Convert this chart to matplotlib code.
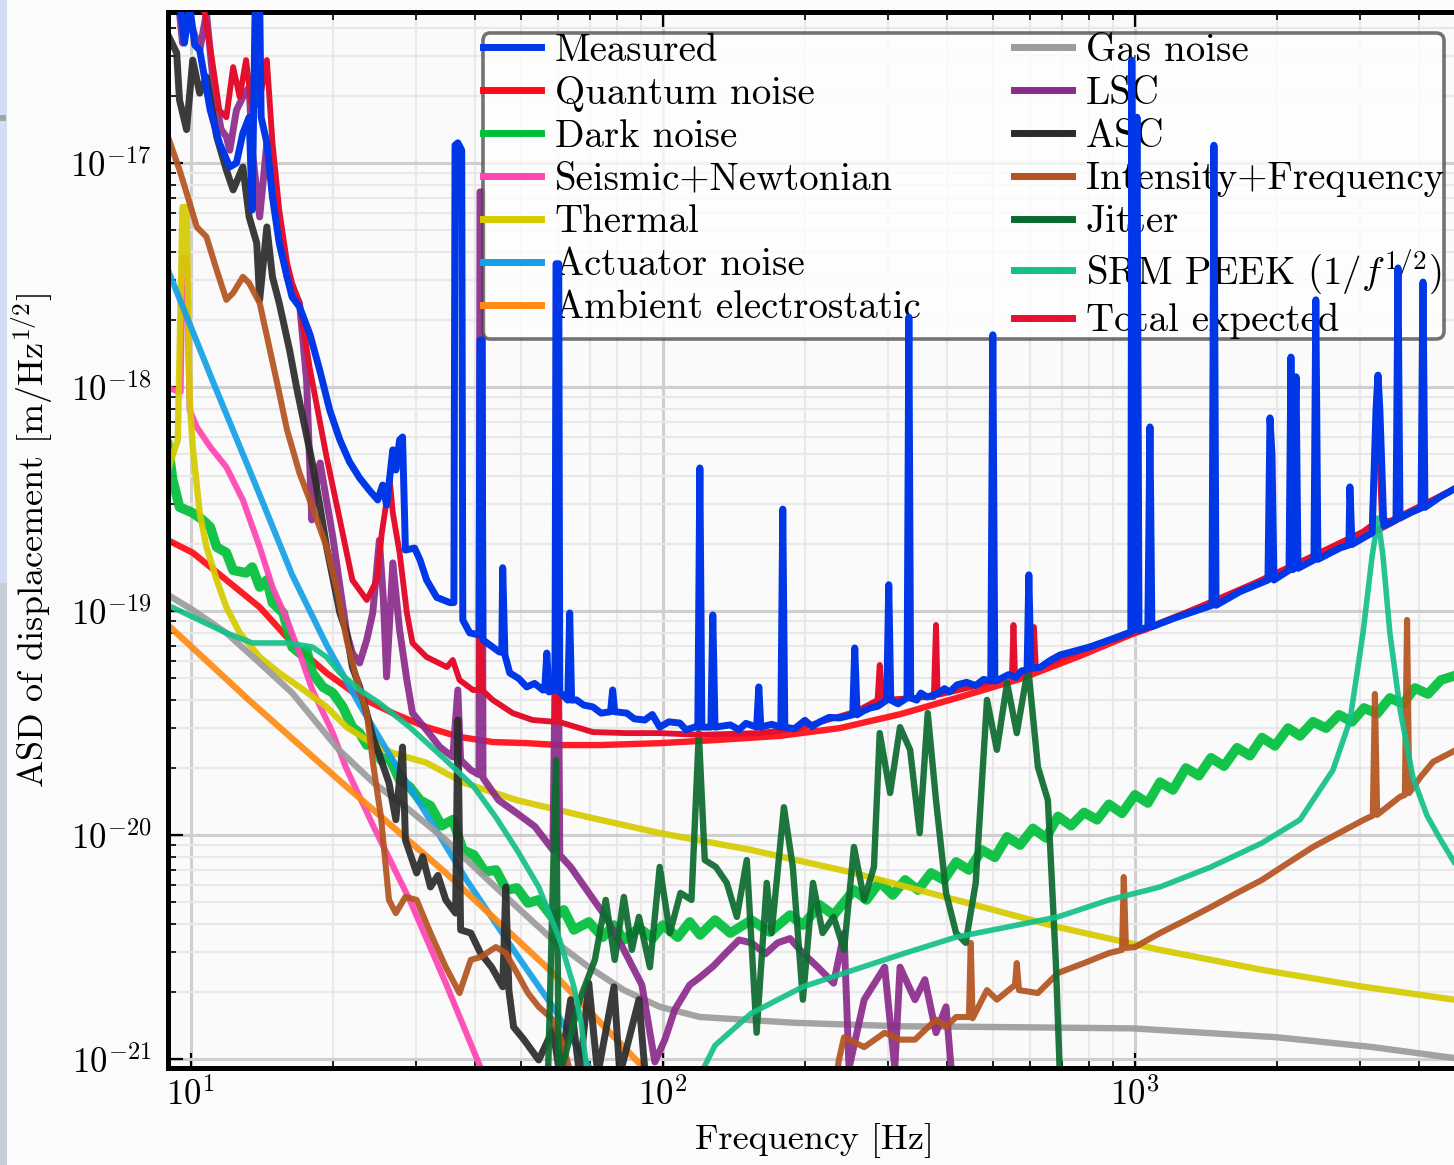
import numpy as np
import matplotlib.pyplot as plt
from matplotlib.patches import Rectangle
from matplotlib.ticker import FuncFormatter, LogLocator, FixedLocator, NullFormatter

plt.rcParams['font.family'] = 'serif'
plt.rcParams['font.serif'] = ['cmr10', 'DejaVu Serif']
plt.rcParams['mathtext.fontset'] = 'cm'
plt.rcParams['axes.formatter.use_mathtext'] = True

# (frequency [Hz], ASD [m/Hz^1/2])
measured = [(9.47, 5.34e-17), (9.70, 3.43e-17), (9.95, 5.07e-17), (10.2, 3.36e-17), (10.45, 3.19e-17),
            (11.0, 1.72e-17), (11.5, 1.23e-17), (12.1, 9.6e-18), (12.5, 1.0e-17), (12.9, 1.36e-17),
            (13.3, 1.60e-17), (13.5, 6.17e-18), (13.7, 5.34e-17), (14.0, 5.34e-17), (14.1, 1.60e-17),
            (14.5, 1.23e-17), (14.9, 7.05e-18), (15.4, 4.39e-18), (16.0, 3.10e-18), (16.4, 2.52e-18),
            (17.0, 2.28e-18), (17.9, 1.71e-18), (18.8, 1.17e-18), (19.7, 7.89e-19), (20.7, 5.80e-19),
            (21.7, 4.63e-19), (22.8, 3.92e-19), (23.9, 3.46e-19), (24.9, 3.13e-19), (25.5, 3.65e-19),
            (26.0, 2.97e-19), (26.8, 5.24e-19), (27.2, 4.26e-19), (27.7, 5.80e-19), (28.1, 5.98e-19),
            (28.5, 1.87e-19), (29.8, 1.91e-19), (30.6, 1.69e-19), (31.6, 1.375e-19), (33.2, 1.15e-19),
            (35.4, 1.09e-19), (36.1, 1.09e-19), (36.3, 1.20e-17), (36.8, 1.23e-17), (37.5, 1.14e-17),
            (37.7, 9.12e-20), (39.0, 7.98e-20), (40.8, 7.82e-20), (41.0, 1.62e-18), (41.4, 1.62e-18),
            (41.6, 7.43e-20), (43.0, 7.05e-20), (45.1, 6.56e-20), (45.6, 6.56e-20), (45.8, 1.56e-19),
            (46.3, 6.36e-20), (47.4, 5.29e-20), (49.5, 5.0e-20), (51.5, 4.58e-20), (53.5, 4.75e-20),
            (55.7, 4.44e-20), (56.2, 4.44e-20), (56.8, 6.49e-20), (57.4, 4.35e-20), (59.1, 4.44e-20),
            (59.4, 3.55e-18), (60.2, 3.55e-18), (60.5, 4.35e-20), (62.9, 4.00e-20), (63.5, 9.8e-20),
            (64.1, 4.00e-20), (65.6, 4.01e-20), (68.0, 3.80e-20), (71.1, 3.73e-20), (74.0, 3.50e-20),
            (77.5, 3.55e-20), (78.3, 4.44e-20), (79.1, 3.55e-20), (83.9, 3.50e-20), (87.0, 3.30e-20),
            (91.6, 3.26e-20), (95.0, 3.45e-20), (98.5, 3.03e-20), (103, 3.20e-20), (108.6, 3.16e-20),
            (112, 2.95e-20), (116.9, 3.03e-20), (118.6, 3.03e-20), (119.8, 4.35e-19), (121, 3.03e-20),
            (126.4, 3.03e-20), (127.6, 9.6e-20), (129, 3.03e-20), (139, 3.10e-20), (145, 2.95e-20),
            (150, 3.15e-20), (158, 3.03e-20), (159.7, 4.58e-20), (161.3, 3.03e-20), (170, 3.12e-20),
            (177.8, 3.03e-20), (179.5, 2.85e-19), (181.3, 3.03e-20), (190, 2.98e-20), (200, 3.25e-20),
            (207, 3.05e-20), (215, 3.20e-20), (225, 3.35e-20), (237, 3.33e-20), (252.5, 3.44e-20),
            (255, 6.84e-20), (258, 3.44e-20), (266, 3.58e-20), (275, 3.69e-20), (285, 3.75e-20),
            (298, 4.00e-20), (301, 1.31e-19), (304, 4.00e-20), (315, 3.85e-20), (329, 4.09e-20),
            (332, 2.05e-18), (335, 4.09e-20), (345, 4.0e-20), (352, 4.3e-20), (363, 4.13e-20),
            (380, 4.25e-20), (395, 4.5e-20), (405, 4.35e-20), (420, 4.68e-20), (440, 4.8e-20),
            (460, 4.65e-20), (478, 4.95e-20), (495, 4.87e-20), (500, 1.71e-18), (505, 4.87e-20),
            (518, 4.97e-20), (540, 5.2e-20), (560, 5.05e-20), (575, 5.4e-20), (591, 5.46e-20),
            (596, 1.45e-19), (602, 5.57e-20), (630, 5.6e-20), (660, 6.0e-20), (694, 6.36e-20),
            (803, 6.91e-20), (907, 7.58e-20), (980, 8.06e-20), (985, 2.88e-17), (995, 8.22e-20),
            (1010, 1.60e-17), (1020, 8.22e-20), (1065, 8.48e-20), (1076, 6.63e-19), (1086, 8.50e-20),
            (1215, 9.31e-20), (1456, 1.06e-19), (1470, 1.20e-17), (1485, 1.06e-19), (1669, 1.22e-19),
            (1913, 1.375e-19), (1932, 7.28e-19), (1951, 4.97e-19), (1970, 1.375e-19), (2120, 1.52e-19),
            (2140, 1.36e-18), (2160, 1.53e-19), (2194, 1.11e-18), (2215, 1.55e-19), (2394, 1.69e-19),
            (2416, 2.45e-18), (2441, 1.70e-19), (2718, 1.91e-19), (2839, 1.97e-19), (2853, 3.58e-19),
            (2882, 1.98e-19), (3069, 2.14e-19), (3180, 2.23e-19), (3240, 7.89e-19), (3272, 1.13e-18),
            (3302, 7.89e-19), (3366, 2.40e-19), (3467, 2.47e-19), (3572, 2.55e-19), (3607, 3.40e-18),
            (3642, 2.60e-19), (3825, 2.74e-19), (4036, 2.88e-19), (4075, 2.94e-18), (4114, 2.90e-19),
            (4430, 3.23e-19), (4740, 3.50e-19)]

quantum = [(8.95, 2.07e-19), (10.1, 1.82e-19), (11.9, 1.375e-19), (14.0, 1.04e-19), (16.4, 7.20e-20),
           (19.4, 5.29e-20), (22.8, 4.13e-20), (26.8, 3.50e-20), (31.6, 3.03e-20), (37.1, 2.74e-20),
           (43.6, 2.60e-20), (51.5, 2.57e-20), (60.5, 2.52e-20), (73.5, 2.52e-20), (98.5, 2.57e-20),
           (132, 2.66e-20), (177, 2.77e-20), (237, 3.00e-20), (318, 3.46e-20), (426, 4.13e-20),
           (571, 4.97e-20), (765, 6.30e-20), (1000, 7.98e-20), (1373, 1.04e-19), (1840, 1.33e-19),
           (2466, 1.74e-19), (3302, 2.32e-19), (4740, 3.50e-19)]

dark = [(8.95, 5.51e-19), (9.16, 3.85e-19), (9.47, 2.91e-19), (10.1, 2.74e-19), (10.6, 2.55e-19),
        (11.0, 2.37e-19), (11.35, 1.93e-19), (11.9, 1.82e-19), (12.3, 1.52e-19), (13.1, 1.48e-19),
        (13.5, 1.57e-19), (14.0, 1.28e-19), (14.5, 1.375e-19), (14.9, 1.09e-19), (15.7, 9.8e-20),
        (16.4, 6.91e-20), (17.0, 6.49e-20), (17.6, 6.70e-20), (18.1, 5.29e-20), (19.05, 4.58e-20),
        (20.0, 4.31e-20), (21.0, 3.73e-20), (22.0, 3.03e-20), (22.8, 2.85e-20), (23.6, 2.52e-20),
        (24.4, 2.66e-20), (25.3, 2.16e-20), (26.3, 2.23e-20), (27.7, 1.76e-20), (29.1, 1.64e-20),
        (30.6, 1.43e-20), (32.2, 1.35e-20), (34.0, 1.10e-20), (35.9, 1.17e-20), (37.7, 8.57e-21),
        (39.8, 8.14e-21), (42.0, 6.85e-21), (44.3, 6.98e-21), (46.7, 5.68e-21), (49.1, 5.80e-21),
        (51.8, 4.97e-21), (54.6, 5.13e-21), (58.5, 4.26e-21), (61.7, 4.63e-21), (64.8, 3.77e-21),
        (69.7, 4.09e-21), (74.6, 3.50e-21), (78.8, 3.96e-21), (82.7, 3.40e-21), (89.0, 3.85e-21),
        (95.2, 3.46e-21), (100, 3.96e-21), (107.6, 3.50e-21), (114, 4.09e-21), (120, 3.58e-21),
        (129, 4.17e-21), (139, 3.65e-21), (154, 4.17e-21), (168.5, 3.69e-21), (186, 4.39e-21),
        (198, 3.96e-21), (215, 4.87e-21), (230, 4.39e-21), (254, 5.68e-21), (270, 5.13e-21),
        (288, 6.17e-21), (307, 5.40e-21), (326, 6.30e-21), (347, 5.68e-21), (370, 6.77e-21),
        (394, 6.30e-21), (418, 7.58e-21), (445, 6.98e-21), (474, 8.57e-21), (505, 7.95e-21),
        (536, 9.8e-21), (571, 9.02e-21), (608, 1.07e-20), (648, 9.7e-21), (687, 1.21e-20),
        (732, 1.10e-20), (780, 1.26e-20), (831, 1.17e-20), (881, 1.37e-20), (939, 1.25e-20),
        (1000, 1.51e-20), (1065, 1.39e-20), (1130, 1.72e-20), (1204, 1.59e-20), (1282, 1.99e-20),
        (1366, 1.84e-20), (1449, 2.21e-20), (1544, 2.03e-20), (1645, 2.45e-20), (1752, 2.26e-20),
        (1858, 2.72e-20), (1979, 2.50e-20), (2110, 3.00e-20), (2237, 2.77e-20), (2383, 3.20e-20),
        (2540, 3.00e-20), (2705, 3.44e-20), (2882, 3.20e-20), (3056, 3.69e-20), (3258, 3.48e-20),
        (3467, 4.09e-20), (3696, 3.85e-20), (3917, 4.53e-20), (4176, 4.26e-20), (4450, 4.92e-20),
        (4740, 5.13e-20)]

seismic = [(8.95, 9.9e-19), (9.52, 9.5e-19), (9.61, 3.77e-18), (9.80, 3.77e-18), (9.95, 7.89e-19),
           (10.3, 6.63e-19), (11.0, 5.40e-19), (11.9, 4.39e-19), (12.9, 3.13e-19), (14.0, 1.93e-19),
           (14.9, 1.28e-19), (16.0, 9.12e-20), (17.0, 6.49e-20), (18.1, 4.44e-20), (20.0, 2.85e-20),
           (21.3, 2.01e-20), (24.4, 1.09e-20), (29.1, 5.13e-21), (34.7, 2.18e-21), (43.0, 7.27e-22)]

thermal = [(8.95, 4.26e-19), (9.39, 5.80e-19), (9.61, 6.36e-18), (9.80, 6.36e-18), (9.95, 8.75e-19),
           (10.1, 5.40e-19), (10.45, 2.74e-19), (10.8, 1.93e-19), (11.35, 1.375e-19), (11.9, 1.04e-19),
           (12.7, 7.98e-20), (14.0, 6.23e-20), (15.4, 5.29e-20), (17.0, 4.58e-20), (19.4, 3.73e-20),
           (21.4, 3.03e-20), (23.6, 2.66e-20), (26.8, 2.32e-20), (31.6, 2.10e-20), (37.9, 1.71e-20),
           (49.1, 1.43e-20), (69.7, 1.20e-20), (98.5, 1.02e-20), (154, 8.57e-21), (254, 6.77e-21),
           (418, 5.13e-21), (687, 3.88e-21), (1130, 3.07e-21), (1858, 2.50e-21), (3056, 2.10e-21),
           (4740, 1.84e-21)]

actuator = [(8.95, 3.33e-18), (11.1, 1.08e-18), (14.0, 3.30e-19), (16.4, 1.45e-19), (19.4, 7.05e-20),
            (22.8, 3.81e-20), (26.8, 2.16e-20), (32.1, 1.17e-20), (38.4, 6.30e-21), (49.1, 2.91e-21),
            (58.5, 1.71e-21), (70.0, 9.12e-22), (73.5, 7.66e-22)]

ambient = [(8.95, 8.66e-20), (13.27, 4.01e-20), (20.6, 1.76e-20), (34.7, 6.77e-21), (58.5, 2.42e-21),
           (89.0, 9.6e-22), (96.0, 8.0e-22)]

gas = [(8.95, 1.18e-19), (10.1, 1.01e-19), (11.9, 7.98e-20), (14.0, 5.86e-20), (16.4, 4.31e-20),
       (20.6, 2.40e-20), (24.4, 1.71e-20), (29.1, 1.29e-20), (34.7, 9.5e-21), (41.1, 6.77e-21),
       (49.1, 4.77e-21), (58.5, 3.40e-21), (69.7, 2.57e-21), (82.7, 2.03e-21), (98.5, 1.71e-21),
       (119.8, 1.54e-21), (191, 1.45e-21), (318, 1.40e-21), (488, 1.39e-21), (989, 1.37e-21),
       (2000, 1.25e-21), (3190, 1.13e-21), (4740, 1.01e-21)]

lsc = [(8.95, 5.34e-17), (9.47, 4.67e-17), (9.61, 3.43e-17), (9.95, 4.35e-17), (10.45, 3.19e-17),
       (10.8, 4.67e-17), (11.2, 2.12e-17), (11.6, 1.41e-17), (11.9, 1.31e-17), (12.1, 1.14e-17),
       (12.5, 1.72e-17), (12.9, 1.97e-17), (13.3, 2.18e-17), (13.5, 1.14e-17), (14.0, 5.74e-18),
       (14.5, 1.23e-17), (14.7, 9.31e-18), (15.2, 5.74e-18), (16.0, 3.10e-18), (17.0, 2.37e-18),
       (17.6, 1.07e-18), (18.05, 2.55e-19), (18.5, 3.85e-19), (18.8, 4.58e-19), (20.0, 2.14e-19),
       (21.4, 7.98e-20), (22.0, 6.49e-20), (22.8, 5.86e-20), (23.6, 7.43e-20), (24.3, 9.8e-20),
       (25.1, 2.07e-19), (25.6, 1.12e-19), (26.0, 5.08e-20), (26.8, 1.64e-19), (27.7, 8.22e-20),
       (28.7, 4.92e-20), (29.5, 3.50e-20), (31.6, 2.94e-20), (33.7, 2.47e-20), (35.9, 2.23e-20),
       (36.8, 4.44e-20), (37.3, 2.16e-20), (39.2, 1.95e-20), (40.8, 1.86e-20), (41.0, 7.43e-18),
       (41.4, 7.43e-18), (41.6, 1.80e-20), (44.9, 1.43e-20), (49.1, 1.25e-20), (53.6, 1.09e-20),
       (58.5, 8.57e-21), (59.4, 1.12e-19), (60.0, 1.12e-19), (60.5, 8.14e-21), (63.8, 7.20e-21),
       (69.7, 5.51e-21), (75.7, 4.31e-21), (82.7, 3.07e-21), (90.3, 2.14e-21), (96.2, 9.7e-22),
       (101, 1.22e-21), (106, 1.66e-21), (114, 2.14e-21), (120, 2.32e-21), (128, 2.60e-21),
       (136, 2.97e-21), (145, 3.40e-21), (154, 3.30e-21), (165, 2.95e-21), (175, 3.30e-21),
       (186, 3.45e-21), (198, 2.97e-21), (213, 2.57e-21), (230, 2.18e-21), (242, 3.65e-21),
       (248, 9.12e-22), (267, 1.84e-21), (295, 2.57e-21), (310, 9.12e-22), (318, 2.57e-21),
       (342, 1.84e-21), (359, 2.26e-21), (379, 1.31e-21), (398, 1.71e-21), (410, 8.05e-22)]

asc = [(8.95, 3.73e-17), (9.34, 3.10e-17), (9.47, 1.91e-17), (9.80, 1.41e-17), (10.1, 2.88e-17),
       (10.45, 2.05e-17), (10.8, 2.42e-17), (11.35, 1.31e-17), (11.9, 9.31e-18), (12.3, 7.58e-18),
       (12.9, 9.6e-18), (13.3, 5.74e-18), (13.8, 4.39e-18), (14.0, 2.45e-18), (14.5, 5.18e-18),
       (14.9, 3.10e-18), (15.4, 2.37e-18), (16.2, 1.46e-18), (16.8, 9.7e-19), (18.1, 4.58e-19),
       (18.8, 2.91e-19), (19.4, 1.93e-19), (20.7, 9.8e-20), (21.4, 7.98e-20), (22.0, 5.62e-20),
       (22.8, 4.58e-20), (23.6, 3.50e-20), (24.4, 2.66e-20), (25.1, 2.28e-20), (26.3, 1.71e-20),
       (27.2, 1.17e-20), (28.1, 2.47e-20), (28.5, 9.5e-21), (30.1, 6.77e-21), (31.0, 8.0e-21),
       (32.2, 5.86e-21), (33.4, 6.6e-21), (34.7, 5.13e-21), (36.4, 4.48e-21), (36.8, 3.26e-20),
       (37.3, 3.77e-21), (39.2, 3.65e-21), (41.1, 2.97e-21), (43.4, 2.57e-21), (45.8, 2.10e-21),
       (46.5, 5.86e-21), (47.2, 2.03e-21), (48.3, 1.39e-21), (50.8, 1.22e-21), (54.6, 9.9e-22),
       (58.5, 1.35e-21), (60.5, 8.5e-22), (63.8, 1.84e-21), (66.6, 8.5e-22), (69.7, 2.18e-21),
       (72.8, 8.5e-22), (78.8, 2.10e-21), (81.1, 8.5e-22), (89.0, 1.84e-21), (92.0, 8.05e-22)]

intensity = [(8.95, 1.31e-17), (9.47, 9.31e-18), (9.95, 6.63e-18), (10.3, 5.18e-18), (10.8, 4.68e-18),
             (11.35, 3.33e-18), (11.9, 2.45e-18), (12.3, 2.63e-18), (12.9, 3.10e-18), (13.3, 2.91e-18),
             (14.0, 2.37e-18), (15.2, 1.07e-18), (16.0, 6.43e-19), (17.0, 4.13e-19), (18.1, 2.91e-19),
             (19.4, 1.93e-19), (20.4, 1.25e-19), (21.4, 7.43e-20), (22.5, 4.92e-20), (23.6, 3.50e-20),
             (24.4, 2.01e-20), (25.3, 1.20e-20), (26.3, 5.13e-21), (27.2, 4.48e-21), (28.5, 5.29e-21),
             (30.1, 5.13e-21), (32.2, 3.65e-21), (34.7, 2.57e-21), (37.1, 1.97e-21), (39.2, 2.77e-21),
             (41.1, 2.85e-21), (44.3, 3.16e-21), (46.5, 2.97e-21), (49.1, 2.42e-21), (51.8, 1.97e-21),
             (54.6, 1.71e-21), (58.5, 1.50e-21), (61.7, 1.13e-21), (65.1, 7.27e-22), (231, 7.27e-22),
             (236, 9.9e-22), (242, 1.25e-21), (267, 1.13e-21), (295, 1.31e-21), (318, 1.22e-21),
             (342, 1.22e-21), (379, 1.50e-21), (398, 1.39e-21), (418, 1.54e-21), (445, 1.54e-21),
             (449, 3.30e-21), (453, 1.52e-21), (486, 2.03e-21), (510, 1.84e-21), (557, 2.14e-21),
             (562, 2.68e-21), (568, 2.03e-21), (623, 1.97e-21), (687, 2.42e-21), (780, 2.68e-21),
             (881, 2.97e-21), (939, 3.07e-21), (947, 6.49e-21), (957, 3.13e-21), (1000, 3.16e-21),
             (1130, 3.65e-21), (1282, 4.17e-21), (1449, 4.77e-21), (1645, 5.51e-21), (1858, 6.30e-21),
             (2110, 7.50e-21), (2383, 8.84e-21), (2705, 1.02e-20), (3056, 1.17e-20), (3190, 1.22e-20),
             (3223, 4.26e-20), (3258, 1.23e-20), (3642, 1.48e-20), (3730, 1.51e-20), (3770, 9.12e-20),
             (3810, 1.54e-20), (4014, 1.80e-20), (4280, 2.12e-20), (4740, 2.37e-20)]

jitter = [(57.1, 8.05e-22), (59.4, 2.16e-20), (60.2, 8.05e-22), (66.7, 1.84e-21), (71.8, 2.77e-21),
          (75.7, 5.13e-21), (79.1, 2.77e-21), (82.7, 5.29e-21), (86.0, 3.07e-21), (89.0, 4.31e-21),
          (93.9, 2.57e-21), (98.5, 7.20e-21), (103.5, 3.65e-21), (109, 5.51e-21), (115, 5.13e-21),
          (119.2, 2.85e-20), (122.7, 7.73e-21), (129.5, 7.20e-21), (136.6, 6.11e-21), (143.5, 4.31e-21),
          (150.6, 7.73e-21), (158, 1.31e-21), (166, 6.11e-21), (170, 3.65e-21), (180.5, 1.33e-20),
          (188.5, 7.20e-21), (198, 1.84e-21), (208, 6.11e-21), (218, 3.65e-21), (230, 4.31e-21),
          (242, 3.07e-21), (254, 8.84e-21), (267, 5.13e-21), (280, 7.20e-21), (288, 2.85e-20),
          (303, 1.54e-20), (318, 3.03e-20), (334, 2.40e-20), (350, 1.02e-20), (364, 3.50e-20),
          (379, 1.43e-20), (398, 5.51e-21), (418, 3.65e-21), (438, 3.30e-21), (460, 6.11e-21),
          (486, 4.01e-20), (510, 2.40e-20), (536, 4.77e-20), (562, 2.85e-20), (594, 5.62e-20),
          (623, 2.01e-20), (654, 1.43e-20), (680, 2.68e-21), (694, 8.05e-22)]

srm = [(8.95, 1.06e-19), (10.1, 9.40e-20), (11.9, 7.98e-20), (13.5, 7.20e-20), (16.0, 7.20e-20),
       (18.1, 6.91e-20), (19.4, 6.23e-20), (20.7, 5.29e-20), (22.8, 4.44e-20), (25.1, 3.88e-20),
       (29.1, 3.03e-20), (34.7, 2.16e-20), (39.8, 1.64e-20), (44.3, 1.20e-20), (49.1, 8.57e-21),
       (54.6, 5.86e-21), (60.5, 3.40e-21), (64.8, 2.10e-21), (67.0, 1.50e-21), (69.0, 9.12e-22),
       (80, 1.5e-22), (92, 2e-23), (105, 2e-22), (122, 9.1e-22), (129, 1.15e-21), (154, 1.60e-21),
       (198, 2.10e-21), (254, 2.50e-21), (326, 2.97e-21), (418, 3.50e-21), (536, 3.88e-21),
       (687, 4.31e-21), (881, 5.13e-21), (1130, 5.86e-21), (1449, 7.20e-21), (1858, 9.21e-21),
       (2237, 1.17e-20), (2627, 1.95e-20), (2855, 3.26e-20), (3041, 7.98e-20), (3180, 1.76e-19),
       (3272, 2.60e-19), (3352, 1.76e-19), (3467, 7.98e-20), (3642, 3.65e-20), (3881, 1.80e-20),
       (4156, 1.22e-20), (4430, 9.6e-21), (4740, 7.58e-21)]

total = [(8.95, 5.34e-17), (10.6, 5.34e-17), (11.1, 2.88e-17), (11.5, 1.72e-17), (11.9, 1.60e-17),
         (12.3, 2.68e-17), (12.7, 1.97e-17), (13.1, 2.88e-17), (13.5, 1.72e-17), (14.0, 1.91e-17),
         (14.5, 2.88e-17), (14.9, 1.23e-17), (15.4, 6.17e-18), (16.0, 3.58e-18), (16.4, 2.91e-18),
         (17.0, 2.37e-18), (17.9, 1.19e-18), (18.8, 6.91e-19), (19.4, 4.87e-19), (20.7, 2.55e-19),
         (22.0, 1.375e-19), (23.6, 1.12e-19), (24.8, 1.375e-19), (25.4, 2.23e-19), (26.4, 3.85e-19),
         (26.8, 2.74e-19), (27.7, 1.82e-19), (28.7, 9.8e-20), (29.5, 7.20e-20), (31.6, 6.23e-20),
         (34.9, 5.62e-20), (35.9, 6.04e-20), (37.1, 4.92e-20), (39.6, 4.44e-20), (40.8, 4.44e-20),
         (41.0, 2.82e-19), (41.4, 4.44e-20), (43.6, 4.01e-20), (48.1, 3.50e-20), (53.0, 3.26e-20),
         (59.1, 3.20e-20), (59.4, 1.12e-19), (60.2, 3.20e-20), (71.1, 2.88e-20), (83.9, 2.85e-20),
         (98.5, 2.85e-20), (119.8, 2.80e-20), (160.5, 2.85e-20), (195, 3.00e-20), (256, 3.55e-20),
         (285, 4.00e-20), (288, 5.74e-20), (292, 4.00e-20), (363, 4.13e-20), (375, 4.13e-20),
         (379, 8.66e-20), (382, 4.22e-20), (472, 4.68e-20), (549, 5.18e-20), (553, 8.66e-20),
         (557, 5.24e-20), (605, 5.46e-20), (611, 8.48e-20), (617, 5.51e-20), (803, 6.91e-20),
         (1050, 8.22e-20), (1366, 1.04e-19), (1787, 1.33e-19), (2326, 1.72e-19), (3041, 2.26e-19),
         (3180, 2.42e-19), (3223, 5.24e-19), (3258, 1.0e-18), (3288, 5.24e-19), (3337, 2.55e-19),
         (3467, 2.52e-19), (4740, 3.50e-19)]

labels = ['Measured', 'Quantum noise', 'Dark noise', 'Seismic+Newtonian', 'Thermal',
          'Actuator noise', 'Ambient electrostatic', 'Gas noise', 'LSC', 'ASC',
          'Intensity+Frequency', 'Jitter', r'SRM PEEK ($1/f^{1/2}$)', 'Total expected']

series = [measured, quantum, dark, seismic, thermal, actuator, ambient, gas, lsc, asc,
          intensity, jitter, srm, total]
colors = ['#0038e8', '#ff0a14', '#00bf3a', '#ff44b4', '#d6cb00', '#14a0e6', '#ff8a14', '#9c9c9c',
          '#8b2a8b', '#2b2b2b', '#b4531f', '#0b6b2e', '#14bf8a', '#e3102e']
widths = [5.0, 4.6, 7.0, 4.4, 4.6, 4.4, 4.6, 4.6, 5.0, 5.0, 4.4, 4.6, 4.0, 4.2]

fig = plt.figure(figsize=(14.54, 11.65), dpi=100, facecolor='#fbfbfb')
ax = fig.add_axes([0.1155, 0.0833, 0.8845, 0.9064])
ax.set_facecolor('#fafafa')
ax.set_xscale('log')
ax.set_yscale('log')

for i, (data, lab, col, lw) in enumerate(zip(series, labels, colors, widths)):
    f, a = np.array(data).T
    if i == 0:
        ax.plot(f, a, color=col, lw=lw, label=lab, zorder=6)
    elif i == len(series) - 1:
        ax.plot(f, a, color=col, lw=lw, label=lab, zorder=3)
    else:
        ax.plot(f, a, color=col, lw=lw, label=lab, zorder=2, alpha=0.92)

ax.set_xlim(8.95, 4740)
ax.set_ylim(9.12e-22, 4.72e-17)

dec = FuncFormatter(lambda v, p: r'$10^{%d}$' % round(np.log10(v)))
ax.xaxis.set_major_locator(FixedLocator([10, 100, 1000]))
ax.yaxis.set_major_locator(FixedLocator([1e-21, 1e-20, 1e-19, 1e-18, 1e-17]))
ax.xaxis.set_major_formatter(dec)
ax.yaxis.set_major_formatter(dec)
ax.xaxis.set_minor_locator(LogLocator(base=10, subs=np.arange(2, 10), numticks=20))
ax.yaxis.set_minor_locator(LogLocator(base=10, subs=np.arange(2, 10), numticks=20))
ax.xaxis.set_minor_formatter(NullFormatter())
ax.yaxis.set_minor_formatter(NullFormatter())

ax.set_axisbelow(True)
ax.grid(True, which='major', color='#cfcfcf', lw=2.2)
ax.grid(True, which='minor', color='#e8e8e8', lw=1.6)

ax.tick_params(which='both', direction='in', top=True, right=False, labelsize=25)
ax.tick_params(which='major', length=11, width=1.6)
ax.tick_params(which='minor', length=6, width=1.2)
ax.tick_params(axis='x', pad=7)
ax.tick_params(axis='y', pad=12)
for s in ['left', 'bottom', 'top']:
    ax.spines[s].set_linewidth(3.6)
ax.spines['right'].set_visible(False)

ax.set_xlabel('Frequency [Hz]', fontsize=26)
ax.xaxis.set_label_coords(0.503, -0.052)
ax.set_ylabel(r'ASD of displacement $[\mathrm{m/Hz}^{1/2}]$', fontsize=26)
ax.yaxis.set_label_coords(-0.088, 0.5)

leg = ax.legend(ncol=2, loc='upper right', bbox_to_anchor=(0.992, 0.980), fontsize=28,
                handlelength=1.5, handletextpad=0.35, columnspacing=2.4, labelspacing=0.18,
                borderpad=0.0, borderaxespad=0, fancybox=True, framealpha=0.75,
                edgecolor='#454545', facecolor='white')
leg.get_frame().set_linewidth(2.6)
leg.set_zorder(5)
for h in leg.get_lines():
    h.set_linewidth(5.0)
    h.set_alpha(1.0)

# slide background strip on the left edge
fig.add_artist(Rectangle((0, 0.5), 0.005, 0.5, transform=fig.transFigure, color='#d3ddf6', lw=0))
fig.add_artist(Rectangle((0, 0), 0.005, 0.5, transform=fig.transFigure, color='#c5cdd8', lw=0))
fig.add_artist(Rectangle((0, 1 - 121 / 1165), 0.004, 6 / 1165, transform=fig.transFigure,
                         color='#9aa89c', lw=0))

fig.savefig('out.png', dpi=100, facecolor=fig.get_facecolor())
